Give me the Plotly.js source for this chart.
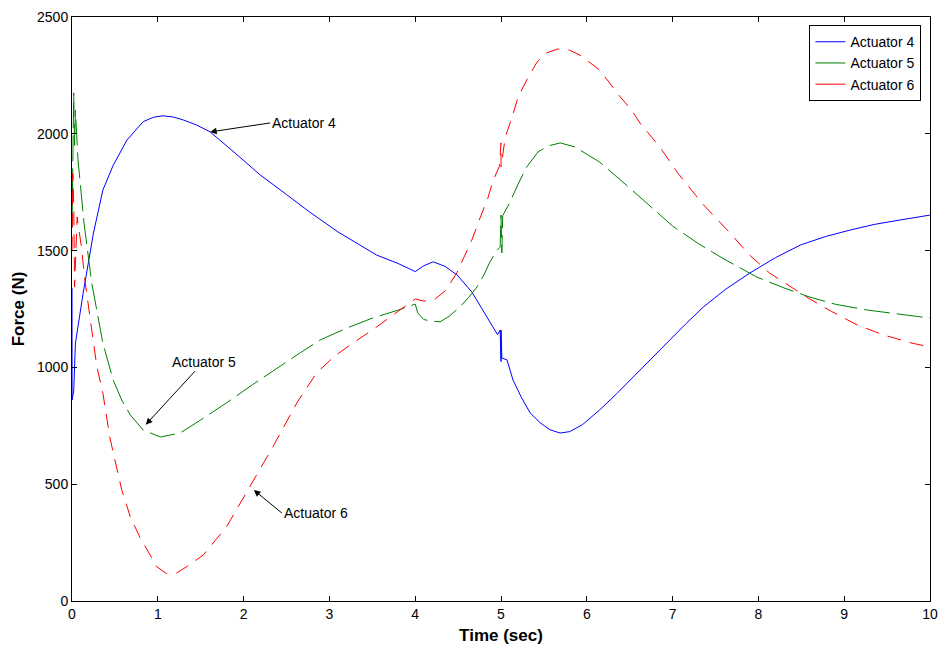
<!DOCTYPE html>
<html><head><meta charset="utf-8">
<script src="https://cdn.plot.ly/plotly-3.0.1.min.js"></script>
<style>body{margin:0;background:#fff}#c{width:940px;height:646px}</style>
</head><body><div id="c"></div>
<script>
// Actuator 4 (blue, solid)
const t4 = [0, 0.001, 0.02, 0.04, 0.13, 0.19, 0.25, 0.36, 0.48, 0.64, 0.83, 0.95, 1.06, 1.18, 1.3, 1.45, 1.61, 1.9, 2.19, 2.5, 2.77, 3.1, 3.55, 3.8, 4.0, 4.1, 4.21, 4.35, 4.49, 4.66, 4.84, 4.96, 4.99, 5.0, 5.0, 5.01, 5.07, 5.14, 5.24, 5.34, 5.45, 5.57, 5.69, 5.8, 5.95, 6.15, 6.35, 6.54, 6.73, 6.93, 7.15, 7.36, 7.62, 7.9, 8.2, 8.49, 8.78, 9.07, 9.35, 9.65, 10.0];
const f4 = [1340, 860, 900, 1104, 1318, 1447, 1575, 1759, 1865, 1973, 2052, 2071, 2077, 2072, 2059, 2038, 2008, 1918, 1825, 1740, 1665, 1580, 1481, 1445, 1410, 1435, 1452, 1432, 1395, 1323, 1216, 1140, 1160, 1025, 1160, 1040, 1032, 946, 870, 805, 765, 733, 719, 725, 755, 818, 888, 959, 1032, 1104, 1185, 1259, 1335, 1404, 1470, 1524, 1560, 1588, 1612, 1631, 1652];
// Actuator 5 (green, dashed)
const t5 = [0, 0.02, 0.03, 0.04, 0.07, 0.14, 0.23, 0.36, 0.48, 0.58, 0.68, 0.83, 1.03, 1.26, 1.5, 1.8, 2.1, 2.39, 2.65, 2.89, 3.2, 3.5, 3.8, 4.0, 4.03, 4.1, 4.17, 4.29, 4.4, 4.52, 4.62, 4.72, 4.8, 4.87, 4.95, 4.99, 5.0, 5.01, 5.02, 5.1, 5.2, 5.3, 5.43, 5.55, 5.69, 5.86, 6.15, 6.5, 7.0, 7.3, 7.58, 7.98, 8.3, 8.6, 8.9, 9.26, 9.6, 10.0];
const f5 = [1600, 2175, 1950, 2100, 1888, 1618, 1361, 1104, 946, 860, 796, 732, 702, 719, 775, 848, 925, 997, 1060, 1117, 1168, 1211, 1245, 1271, 1233, 1205, 1199, 1195, 1220, 1259, 1298, 1344, 1395, 1451, 1500, 1515, 1652, 1490, 1650, 1704, 1785, 1858, 1922, 1948, 1961, 1944, 1879, 1768, 1605, 1530, 1468, 1387, 1340, 1301, 1270, 1246, 1230, 1211];
// Actuator 6 (red, dashed)
const t6 = [0, 0.01, 0.02, 0.03, 0.06, 0.11, 0.15, 0.2, 0.25, 0.29, 0.36, 0.44, 0.5, 0.58, 0.68, 0.79, 0.99, 1.1, 1.22, 1.35, 1.53, 1.8, 2.07, 2.34, 2.62, 2.85, 3.05, 3.24, 3.5, 3.8, 4.0, 4.1, 4.22, 4.36, 4.49, 4.58, 4.66, 4.76, 4.84, 4.91, 4.98, 5.0, 5.0, 5.05, 5.13, 5.2, 5.3, 5.42, 5.53, 5.66, 5.8, 5.92, 6.15, 6.39, 6.52, 6.62, 6.85, 7.06, 7.35, 7.67, 7.9, 8.13, 8.35, 8.58, 8.85, 9.15, 9.45, 9.79, 10.0];
const f6 = [1500, 1830, 1700, 1344, 1644, 1515, 1374, 1246, 1117, 1002, 890, 702, 604, 475, 360, 274, 146, 118, 120, 150, 197, 317, 488, 659, 848, 976, 1045, 1096, 1160, 1240, 1293, 1284, 1289, 1331, 1408, 1481, 1545, 1644, 1717, 1802, 1860, 1961, 1858, 1986, 2072, 2158, 2230, 2307, 2346, 2363, 2358, 2337, 2273, 2158, 2102, 2046, 1944, 1832, 1700, 1575, 1480, 1404, 1350, 1297, 1240, 1182, 1140, 1104, 1087];

const names = ['Actuator 4', 'Actuator 5', 'Actuator 6'];
const colors = ['#0000ff', '#008000', '#ff0000'];
const dashes = ['solid', '26px,7px', '14px,9px'];
const xs = [t4, t5, t6], ys = [f4, f5, f6];

const traces = [];
for (let i = 0; i < 3; i++) {
  traces.push({x: xs[i], y: ys[i], mode: 'lines', name: names[i], showlegend: false,
    line: {color: colors[i], width: 1, dash: dashes[i]}});
}
// legend entries drawn with solid samples, as in the reference
for (let i = 0; i < 3; i++) {
  traces.push({x: [xs[i][0]], y: [ys[i][0]], mode: 'lines', name: names[i], showlegend: true,
    hoverinfo: 'skip', line: {color: colors[i], width: 1, dash: 'solid'}});
}

const font = {family: 'Liberation Sans, Arial, sans-serif', color: '#000'};
const layout = {
  width: 940, height: 646,
  margin: {l: 72, r: 10, t: 17, b: 45},
  paper_bgcolor: '#fff', plot_bgcolor: '#fff',
  font: Object.assign({size: 13}, font),
  showlegend: true,
  legend: {x: 0.99, y: 0.986, xanchor: 'right', yanchor: 'top', bgcolor: '#fff',
    bordercolor: '#000', borderwidth: 1, font: Object.assign({size: 14}, font),
    tracegroupgap: 0, itemwidth: 30},
  xaxis: {range: [0, 10], dtick: 1, ticks: 'inside', ticklen: 5, tickcolor: '#000',
    showline: true, linecolor: '#000', linewidth: 1, mirror: 'ticks', showgrid: false, zeroline: false,
    tickfont: Object.assign({size: 14}, font),
    title: {text: '<b>Time (sec)</b>', font: Object.assign({size: 17}, font), standoff: 8}},
  yaxis: {range: [0, 2500], dtick: 500, ticks: 'inside', ticklen: 5, tickcolor: '#000',
    showline: true, linecolor: '#000', linewidth: 1, mirror: 'ticks', showgrid: false, zeroline: false,
    tickfont: Object.assign({size: 14}, font),
    title: {text: '<b>Force (N)</b>', font: Object.assign({size: 17}, font), standoff: 8}},
  annotations: [
    {x: 1.61, y: 2008, ax: 60, ay: -9, text: 'Actuator 4', showarrow: true, arrowhead: 2, arrowsize: 1.3, arrowwidth: 1, arrowcolor: '#000', xanchor: 'left', font: Object.assign({size: 14}, font)},
    {x: 0.86, y: 755, ax: 58, ay: -63, text: 'Actuator 5', showarrow: true, arrowhead: 2, arrowsize: 1.3, arrowwidth: 1, arrowcolor: '#000', font: Object.assign({size: 14}, font)},
    {x: 2.12, y: 475, ax: 28, ay: 23, text: 'Actuator 6', showarrow: true, arrowhead: 2, arrowsize: 1.3, arrowwidth: 1, arrowcolor: '#000', xanchor: 'left', font: Object.assign({size: 14}, font)}
  ]
};
Plotly.newPlot('c', traces, layout, {displayModeBar: false, staticPlot: true});
</script></body></html>
